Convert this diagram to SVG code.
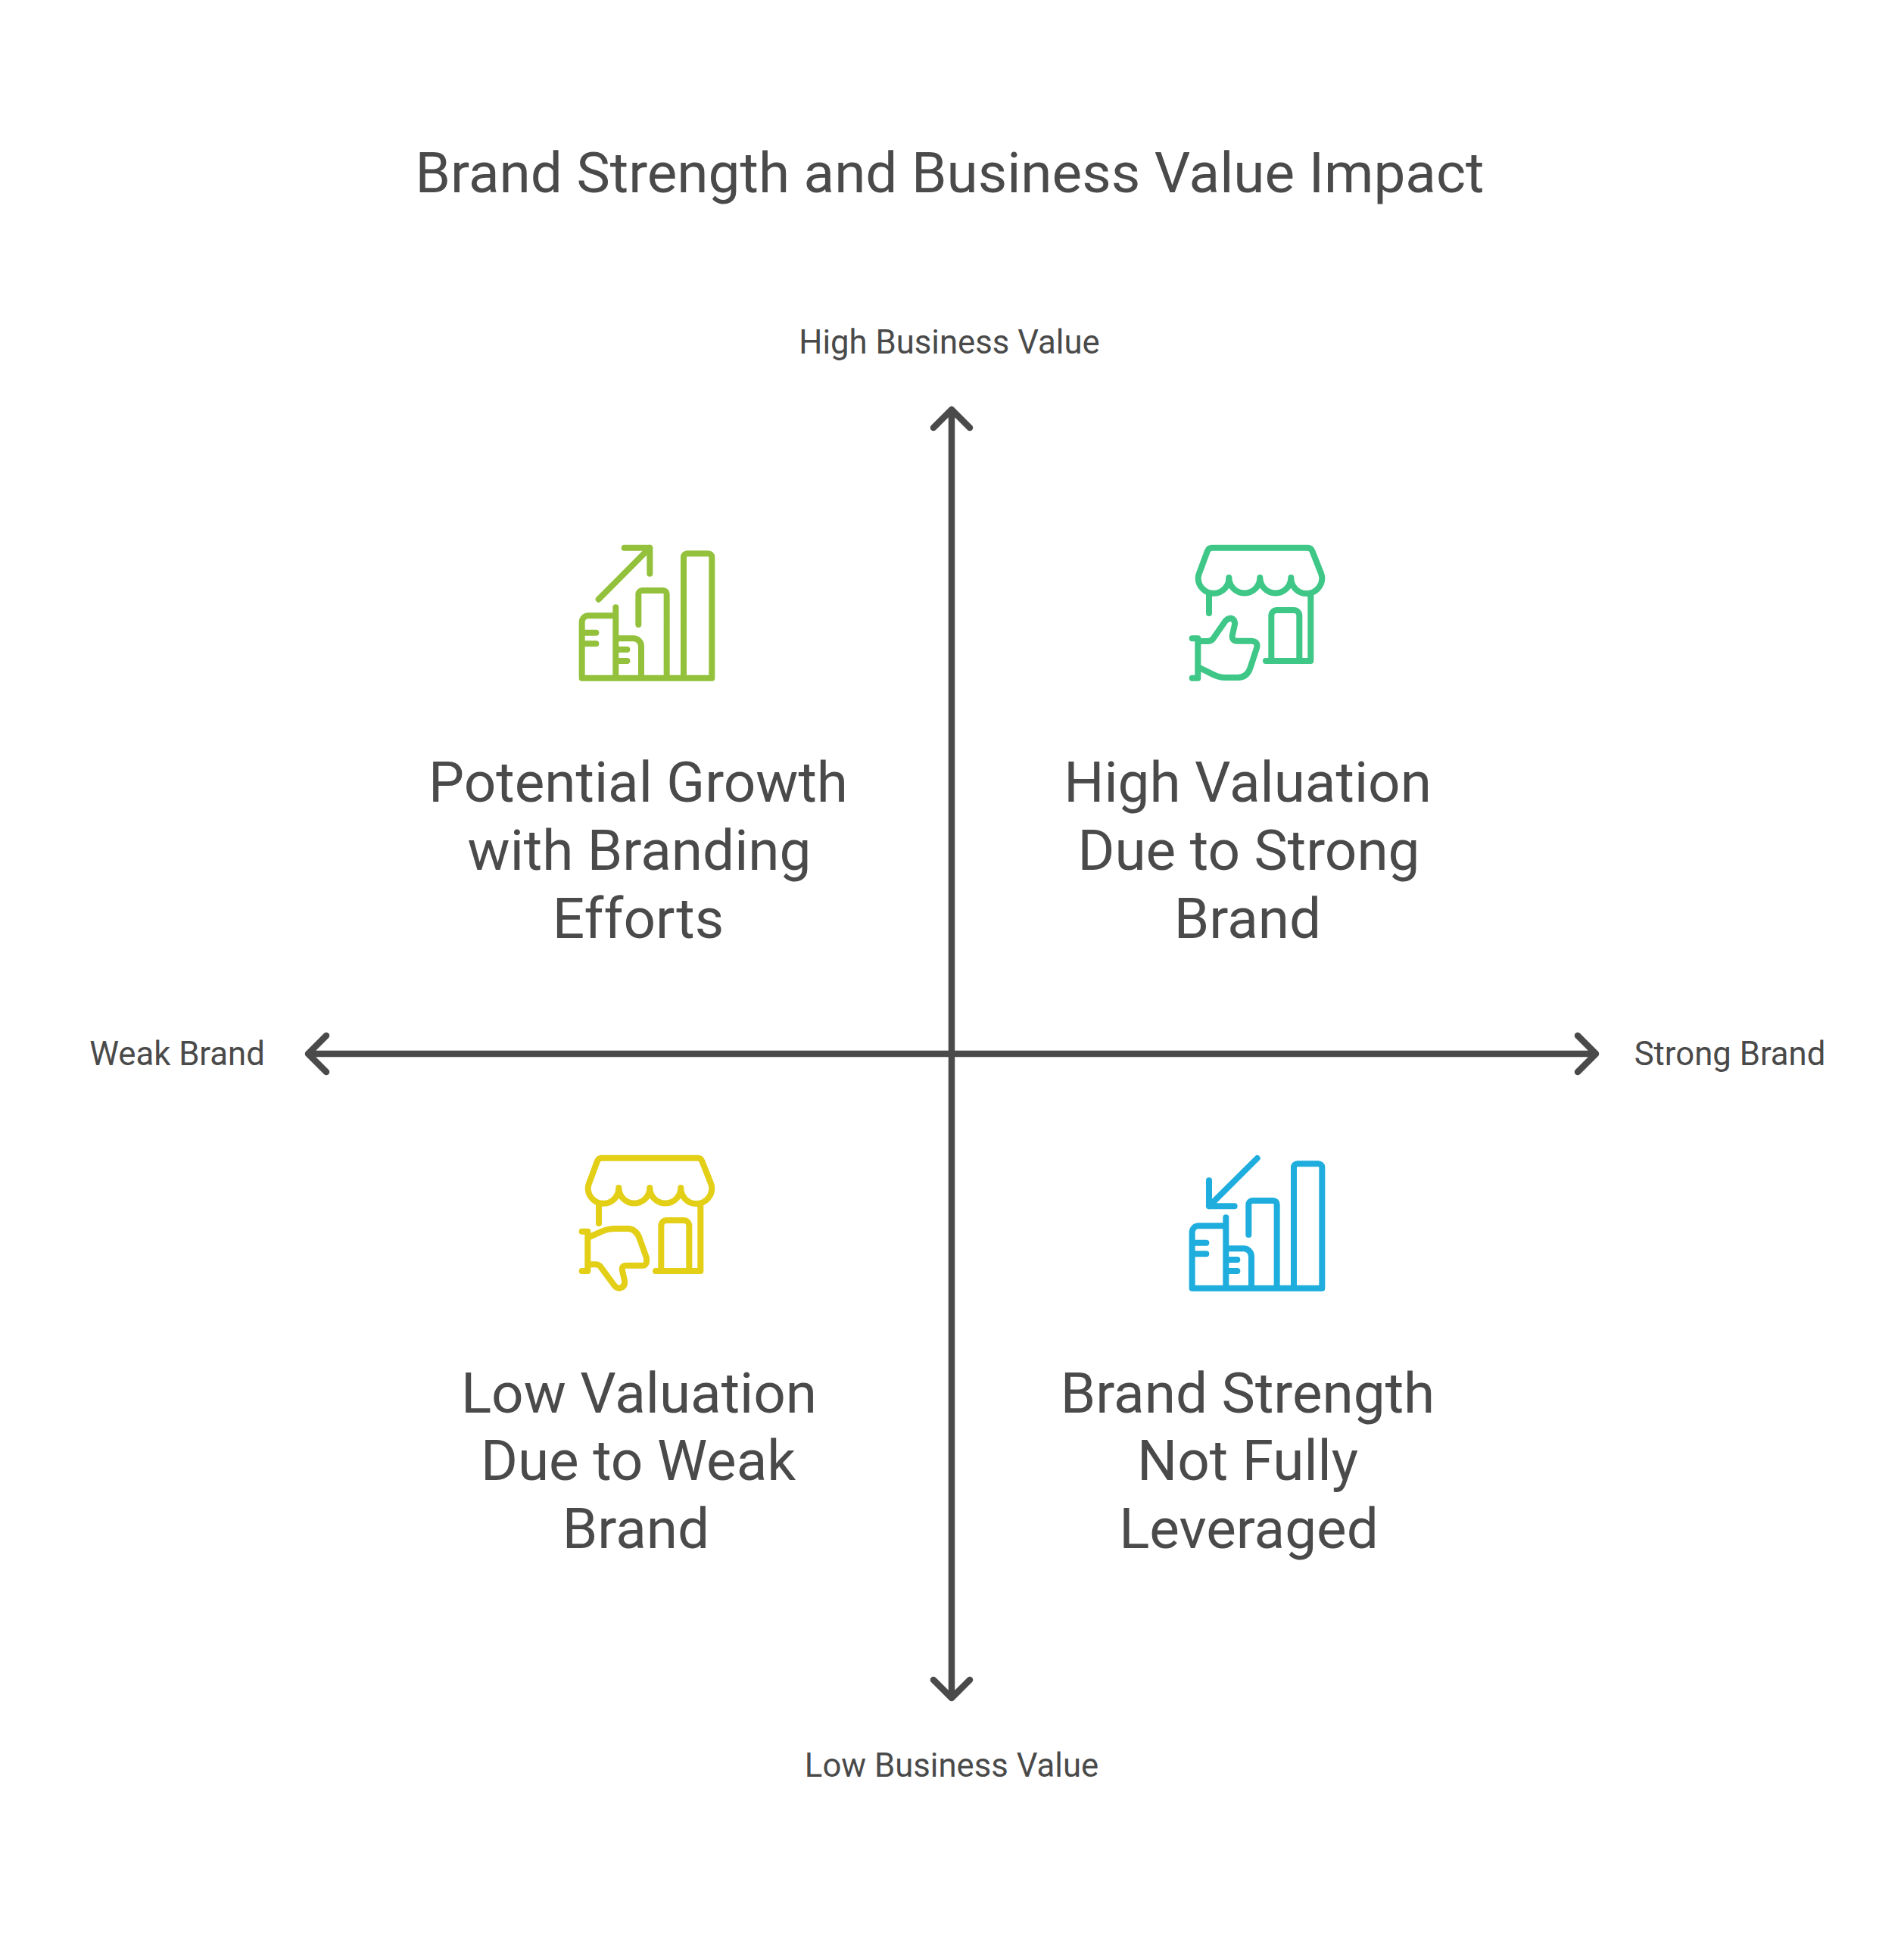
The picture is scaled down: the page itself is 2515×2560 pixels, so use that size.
<svg xmlns="http://www.w3.org/2000/svg" xmlns:xlink="http://www.w3.org/1999/xlink" width="2515" height="2560" viewBox="0 0 2515 2560">
<style>
text{font-family:Roboto,"Liberation Sans",sans-serif;fill:#4A4A4A;text-anchor:middle}
.title{font-size:74.67px}
.axis{font-size:43.7px}
.q{font-size:74.67px}
.ax{fill:none;stroke:#4A4A4A;stroke-width:8.5;stroke-linecap:round;stroke-linejoin:round}
.ic{fill:none;stroke-width:24;stroke-linecap:round;stroke-linejoin:round}
</style>
<defs>
<g id="bars"><path d="M86 587H601V108a14 14 0 0 0-14-14H503a14 14 0 0 0-14 14V587M86 587V365a25 25 0 0 1 25-25H220M220 307V587M220 430H290a31 31 0 0 1 31 31V587M86 407H142M86 451H142M220 474H265M220 519H265M310 375V255a15 15 0 0 1 15-15H408a14 14 0 0 1 14 14V587"/></g>
<g id="shop"><path d="M152 71H533Q545 71 550 83L585 172Q589 182 589 192A61 61 0 0 1 466 189A61 61 0 0 1 343 189A61 61 0 0 1 220 189A61 61 0 0 1 98 192Q98 182 102 172L135 83Q140 71 152 71ZM141 255V330M544 250V519H366M388 519V340a22 22 0 0 1 22-22H477a22 22 0 0 1 22 22V519"/></g>
</defs>
<rect width="2515" height="2560" fill="#fff"/>
<text class="title" x="1254.500" y="253.500">Brand Strength and Business Value Impact</text>
<g id="connectors">
<path class="ax" d="M1257 541V2243M1233 565L1257 541L1281 565M1233 2219L1257 2243L1281 2219"/>
<path class="ax" d="M407 1392H2108M431 1368L407 1392L431 1416M2084 1368L2108 1392L2084 1416"/>
</g>
<g id="axis-top"><text class="axis" x="1254" y="467">High Business Value</text></g>
<g id="axis-bottom"><text class="axis" x="1257" y="2347">Low Business Value</text></g>
<g id="axis-left"><text class="axis" x="234" y="1407">Weak Brand</text></g>
<g id="axis-right"><text class="axis" x="2285" y="1407">Strong Brand</text></g>
<g id="node-potential">
<g class="ic" stroke="#93C13C" transform="translate(740 700) scale(.3333)"><use xlink:href="#bars"/><path d="M152 275L355 71M254 71H355V173"/></g>
<text class="q" x="843" y="1059">Potential Growth</text><text class="q" x="844.500" y="1149">with Branding</text><text class="q" x="843" y="1239">Efforts</text>
</g>
<g id="node-high">
<g class="ic" stroke="#3EC786" transform="translate(1550 700) scale(.3333)"><use xlink:href="#shop"/><path d="M74 430H97V587H74M97 441H135Q150 441 158 430L205 362Q215 350 228 350Q245 355 243 375L233 420Q232 440 252 440H310Q335 442 331 465L305 545Q293 585 255 585H205Q180 585 155 572L97 543"/></g>
<text class="q" x="1648" y="1059">High Valuation</text><text class="q" x="1649.500" y="1149">Due to Strong</text><text class="q" x="1648" y="1239">Brand</text>
</g>
<g id="node-low">
<g class="ic" stroke="#E2CF16" transform="translate(750 1510) scale(.3333)"><use xlink:href="#shop" transform="translate(-18 -12)"/><path d="M56 350H79V507H56M79 375L135 350Q160 339 190 339H240Q275 342 287 385L312 455Q316 490 290 485H232Q212 485 216 505L225 545Q228 570 205 575Q192 575 185 565L130 490Q122 480 110 481H79"/></g>
<text class="q" x="844" y="1866">Low Valuation</text><text class="q" x="843" y="1955">Due to Weak</text><text class="q" x="840" y="2045">Brand</text>
</g>
<g id="node-brand">
<g class="ic" stroke="#1FADDD" transform="translate(1550 1510) scale(.3333)"><use xlink:href="#bars" transform="translate(-12 -12)"/><path d="M332 60L141 250M141 148V250H242"/></g>
<text class="q" x="1648" y="1866">Brand Strength</text><text class="q" x="1648" y="1955">Not Fully</text><text class="q" x="1649.500" y="2045">Leveraged</text>
</g>
</svg>
